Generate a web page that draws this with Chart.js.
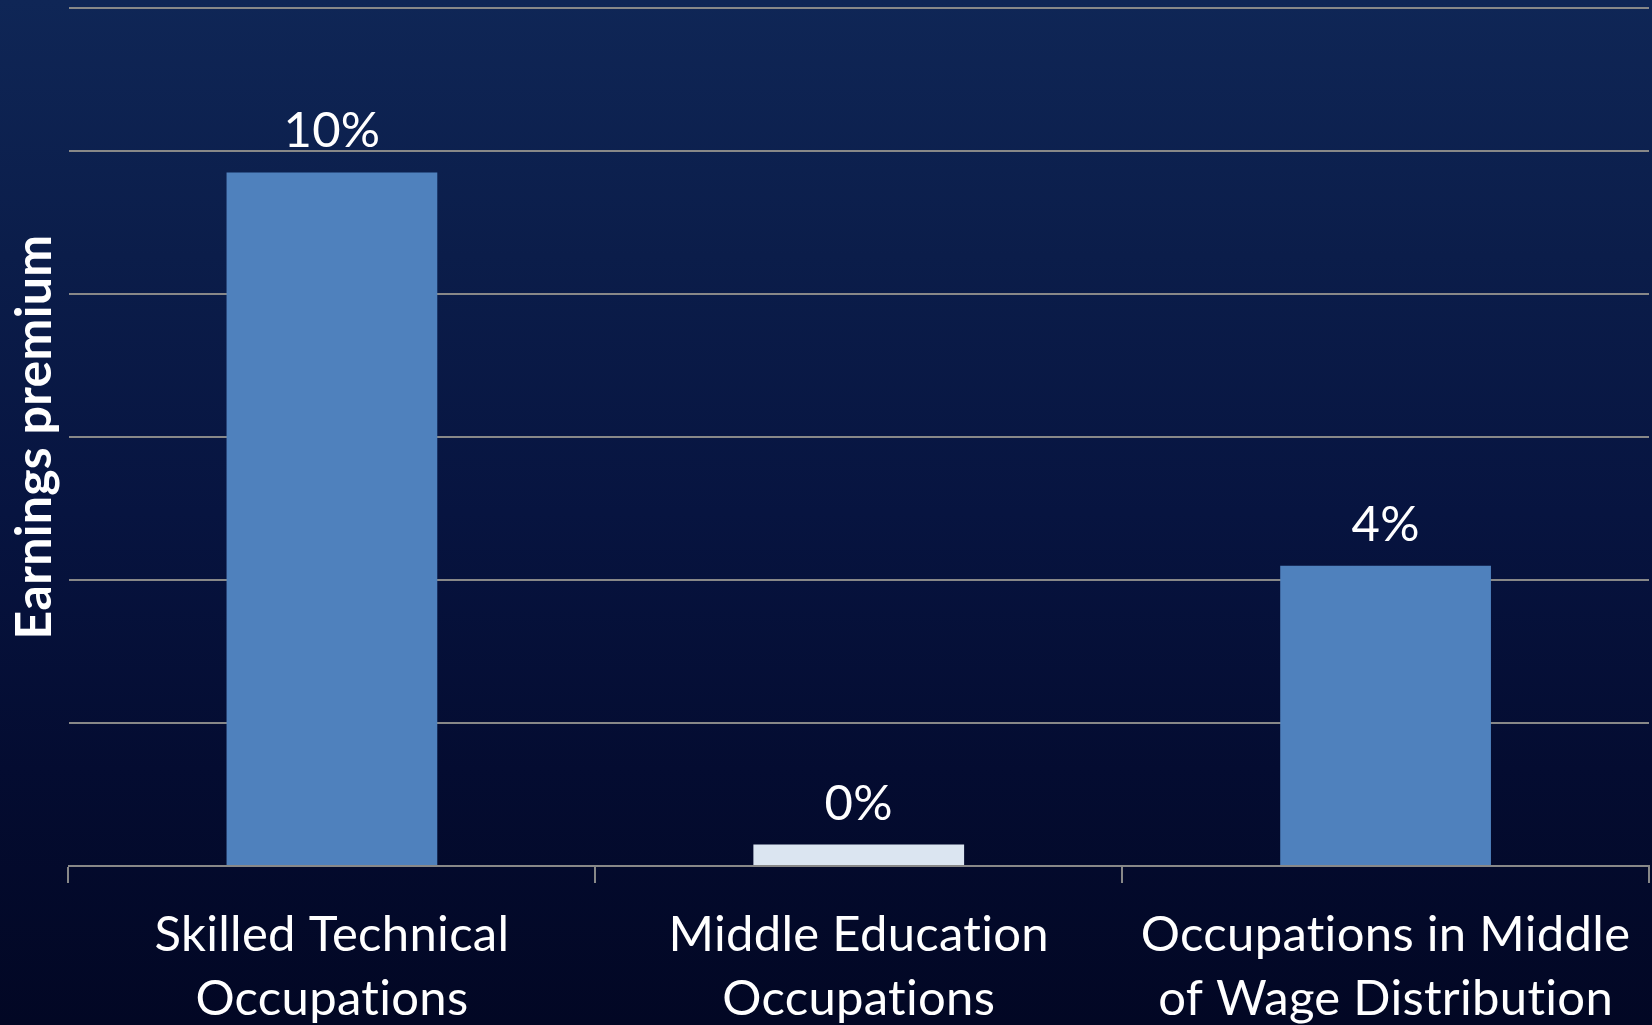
<!DOCTYPE html>
<html>
<head>
<meta charset="utf-8">
<script src="https://cdn.jsdelivr.net/npm/chart.js@4/dist/chart.umd.min.js"></script>
<style>
  html, body { margin: 0; padding: 0; }
  body {
    width: 1652px; height: 1025px; overflow: hidden;
    background: linear-gradient(to bottom, #0f2656 0%, #0b1d4a 25%, #071440 50%, #040c31 75%, #020724 100%);
  }
  #wrap { position: relative; width: 1652px; height: 1025px; }
</style>
</head>
<body>
<div id="wrap"><canvas id="chart" width="1652" height="1025"></canvas></div>
<script>
// Category labels (two lines each)
const categories = [
  ['Skilled Technical', 'Occupations'],
  ['Middle Education', 'Occupations'],
  ['Occupations in Middle', 'of Wage Distribution']
];
// Earnings premium, percent
const premiumValues = [9.7, 0.3, 4.2];
const barColors = ['#4f81bd', '#dbe5f1', '#4f81bd'];
const axisTitle = 'Earnings premium';
const yMin = 0, yMax = 12, yStep = 2;

const FONT = 'Lato, "Open Sans", sans-serif';
const gridGray = '#888888';

// A tiny letter spacing keeps "ti" from being drawn as a ligature
const textSpacing = {
  id: 'textSpacing',
  beforeInit(chart) { chart.ctx.letterSpacing = '0.3px'; },
  beforeDraw(chart) { chart.ctx.letterSpacing = '0.3px'; }
};

// Value labels above each bar
const valueLabels = {
  id: 'valueLabels',
  afterDatasetsDraw(chart) {
    const ctx = chart.ctx;
    const meta = chart.getDatasetMeta(0);
    ctx.save();
    ctx.fillStyle = '#ffffff';
    ctx.font = '49px ' + FONT;
    ctx.textAlign = 'center';
    ctx.textBaseline = 'alphabetic';
    meta.data.forEach((bar, i) => {
      const v = chart.data.datasets[0].data[i];
      ctx.fillText(Math.round(v) + '%', bar.x, bar.y - 25);
    });
    ctx.restore();
  }
};

new Chart(document.getElementById('chart'), {
  type: 'bar',
  data: {
    labels: categories,
    datasets: [{
      data: premiumValues,
      backgroundColor: barColors,
      borderWidth: 0,
      barPercentage: 0.4,
      categoryPercentage: 1.0
    }]
  },
  options: {
    responsive: false,
    animation: false,
    layout: { padding: { top: 8, right: 3, left: 0, bottom: 0 } },
    plugins: {
      legend: { display: false },
      tooltip: { enabled: false }
    },
    scales: {
      x: {
        afterFit(scale) { scale.height = 159; },
        grid: {
          offset: true,
          drawOnChartArea: false,
          drawTicks: true,
          tickLength: 17,
          color: gridGray,
          lineWidth: 2
        },
        border: { display: true, color: gridGray, width: 2 },
        ticks: {
          color: '#ffffff',
          font: { family: FONT, size: 49, lineHeight: 1.29 },
          padding: 21,
          maxRotation: 0,
          minRotation: 0,
          autoSkip: false
        }
      },
      y: {
        min: yMin,
        max: yMax,
        ticks: { display: false, stepSize: yStep },
        grid: { drawTicks: false, color: gridGray, lineWidth: 2 },
        border: { display: false },
        title: {
          display: true,
          text: axisTitle,
          color: '#ffffff',
          font: { family: FONT, size: 50, weight: 'bold', lineHeight: 1.27 },
          padding: { top: 3, bottom: 2 }
        }
      }
    }
  },
  plugins: [textSpacing, valueLabels]
});
</script>
</body>
</html>
